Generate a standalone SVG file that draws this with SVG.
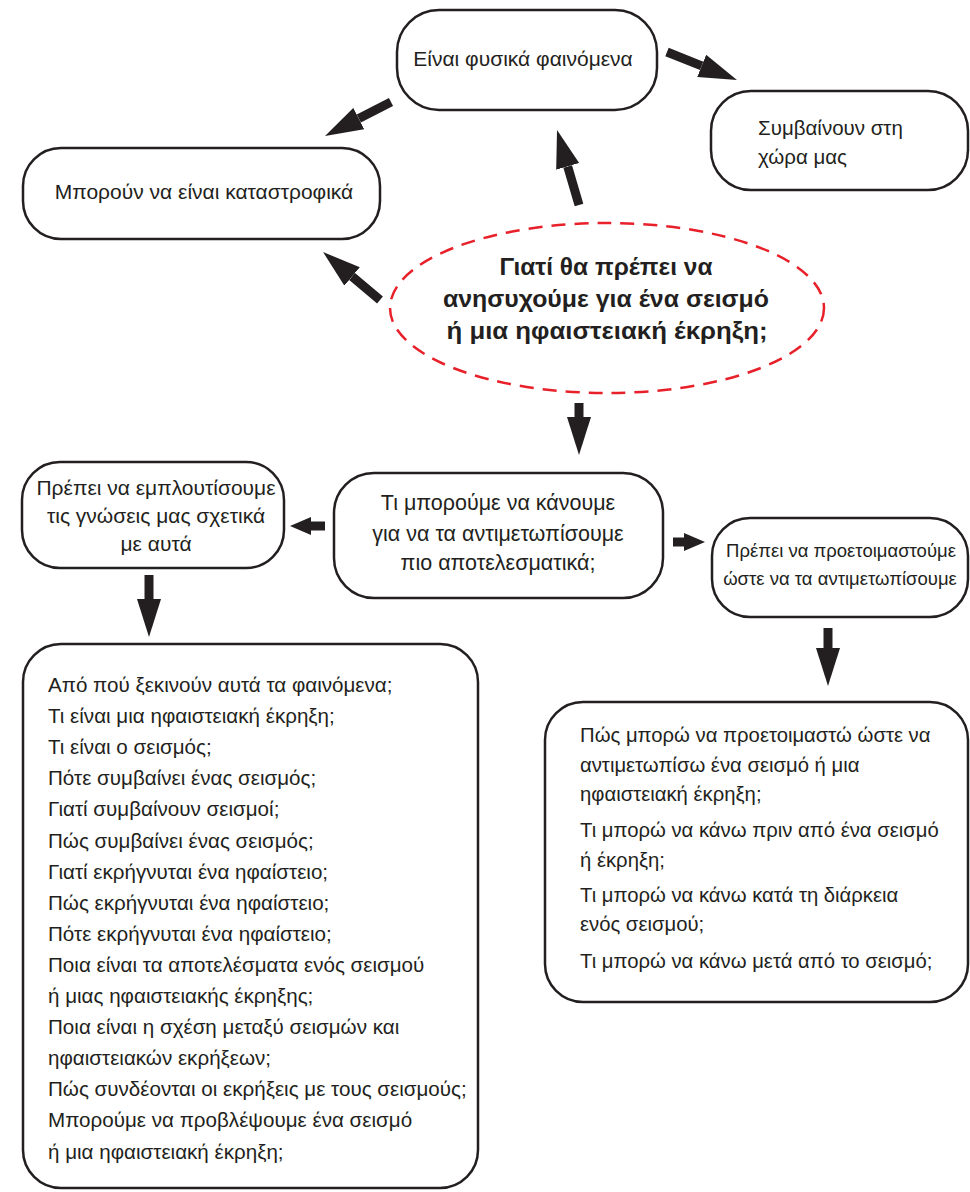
<svg xmlns="http://www.w3.org/2000/svg" width="970" height="1192" viewBox="0 0 970 1192">
<style>
.box{fill:#fff;stroke:#231f20;stroke-width:2.5}
.t{font-family:"Liberation Sans",Arial,sans-serif;fill:#231f20}
.c{text-anchor:middle}
.b{font-weight:bold}
.arr{stroke:#231f20;stroke-width:9;fill:none}
</style>
<defs>
<marker id="hb" viewBox="0 -12 38 24" refX="0" refY="0" markerWidth="38" markerHeight="24" markerUnits="userSpaceOnUse" orient="auto">
<path d="M0,-12 L38,0 L0,12 z" fill="#231f20"/>
</marker>
<marker id="hs" viewBox="0 -9 21 18" refX="0" refY="0" markerWidth="21" markerHeight="18" markerUnits="userSpaceOnUse" orient="auto">
<path d="M0,-9 L21,0 L0,9 z" fill="#231f20"/>
</marker>
</defs>
<rect width="970" height="1192" fill="#fff"/>

<g id="connectors">
<line class="arr" x1="579" y1="205" x2="567.7" y2="166.4" marker-end="url(#hb)"/>
<line class="arr" x1="391" y1="102" x2="358.8" y2="118.6" marker-end="url(#hb)"/>
<line class="arr" x1="667" y1="52" x2="701.7" y2="65.9" marker-end="url(#hb)"/>
<line class="arr" x1="380" y1="300" x2="352.1" y2="276.5" marker-end="url(#hb)"/>
<line class="arr" x1="579" y1="403" x2="579" y2="417" marker-end="url(#hb)"/>
<line class="arr" x1="325" y1="526" x2="311" y2="526" marker-end="url(#hs)"/>
<line class="arr" x1="673" y1="542" x2="684" y2="542" marker-end="url(#hs)"/>
<line class="arr" x1="149" y1="575" x2="149" y2="599" marker-end="url(#hb)"/>
<line class="arr" x1="828" y1="628" x2="828" y2="648" marker-end="url(#hb)"/>
</g>

<g id="n-physical">
<rect class="box" x="397" y="10" width="260" height="100" rx="42"/>
<text class="t c" x="523" y="66" font-size="21">Είναι φυσικά φαινόμενα</text>
</g>

<g id="n-country">
<rect class="box" x="711" y="91" width="257" height="99" rx="40"/>
<text class="t" x="758" y="135" font-size="20.5">Συμβαίνουν στη</text>
<text class="t" x="758" y="164" font-size="20.5">χώρα μας</text>
</g>

<g id="n-catastrophic">
<rect class="box" x="23" y="148" width="357" height="91" rx="38"/>
<text class="t c" x="204" y="199" font-size="21">Μπορούν να είναι καταστροφικά</text>
</g>

<g id="n-question">
<ellipse cx="607" cy="308" rx="217" ry="85" fill="#fff" stroke="#e8202a" stroke-width="2.5" stroke-dasharray="14,9"/>
<text class="t c b" x="606" y="275" font-size="23" textLength="213" lengthAdjust="spacingAndGlyphs">Γιατί θα πρέπει να</text>
<text class="t c b" x="606" y="307" font-size="23" textLength="326" lengthAdjust="spacingAndGlyphs">ανησυχούμε για ένα σεισμό</text>
<text class="t c b" x="607" y="339" font-size="23" textLength="321" lengthAdjust="spacingAndGlyphs">ή μια ηφαιστειακή έκρηξη;</text>
</g>

<g id="n-what">
<rect class="box" x="334" y="473" width="329" height="125" rx="40"/>
<text class="t c" x="498" y="510" font-size="21.5">Τι μπορούμε να κάνουμε</text>
<text class="t c" x="498" y="541" font-size="21.5">για να τα αντιμετωπίσουμε</text>
<text class="t c" x="498" y="570" font-size="21.5">πιο αποτελεσματικά;</text>
</g>

<g id="n-enrich">
<rect class="box" x="22" y="462" width="262" height="106" rx="38"/>
<text class="t c" x="156" y="495" font-size="21">Πρέπει να εμπλουτίσουμε</text>
<text class="t c" x="156" y="523" font-size="21">τις γνώσεις μας σχετικά</text>
<text class="t c" x="156" y="551" font-size="21">με αυτά</text>
</g>

<g id="n-prepare">
<rect class="box" x="712" y="518" width="256" height="99" rx="38"/>
<text class="t c" x="841" y="557" font-size="18.5">Πρέπει να προετοιμαστούμε</text>
<text class="t c" x="840" y="585" font-size="18.5">ώστε να τα αντιμετωπίσουμε</text>
</g>

<g id="n-knowledge">
<rect class="box" x="23" y="644" width="455" height="544" rx="38"/>
<g class="t" font-size="20.6">
<text x="48" y="692">Από πού ξεκινούν αυτά τα φαινόμενα;</text>
<text x="48" y="723.1">Τι είναι μια ηφαιστειακή έκρηξη;</text>
<text x="48" y="754.2">Τι είναι ο σεισμός;</text>
<text x="48" y="785.3">Πότε συμβαίνει ένας σεισμός;</text>
<text x="48" y="816.4">Γιατί συμβαίνουν σεισμοί;</text>
<text x="48" y="847.5">Πώς συμβαίνει ένας σεισμός;</text>
<text x="48" y="878.6">Γιατί εκρήγνυται ένα ηφαίστειο;</text>
<text x="48" y="909.7">Πώς εκρήγνυται ένα ηφαίστειο;</text>
<text x="48" y="940.8">Πότε εκρήγνυται ένα ηφαίστειο;</text>
<text x="48" y="971.9">Ποια είναι τα αποτελέσματα ενός σεισμού</text>
<text x="48" y="1003">ή μιας ηφαιστειακής έκρηξης;</text>
<text x="48" y="1034.1">Ποια είναι η σχέση μεταξύ σεισμών και</text>
<text x="48" y="1065.2">ηφαιστειακών εκρήξεων;</text>
<text x="48" y="1096.3">Πώς συνδέονται οι εκρήξεις με τους σεισμούς;</text>
<text x="48" y="1127.4">Μπορούμε να προβλέψουμε ένα σεισμό</text>
<text x="48" y="1158.5">ή μια ηφαιστειακή έκρηξη;</text>
</g>
</g>

<g id="n-steps">
<rect class="box" x="545" y="702" width="423" height="300" rx="38"/>
<g class="t" font-size="20.3">
<text x="580" y="742">Πώς μπορώ να προετοιμαστώ ώστε να</text>
<text x="580" y="772">αντιμετωπίσω ένα σεισμό ή μια</text>
<text x="580" y="801">ηφαιστειακή έκρηξη;</text>
<text x="580" y="837">Τι μπορώ να κάνω πριν από ένα σεισμό</text>
<text x="580" y="867">ή έκρηξη;</text>
<text x="580" y="902">Τι μπορώ να κάνω κατά τη διάρκεια</text>
<text x="580" y="931">ενός σεισμού;</text>
<text x="580" y="968">Τι μπορώ να κάνω μετά από το σεισμό;</text>
</g>
</g>
</svg>
